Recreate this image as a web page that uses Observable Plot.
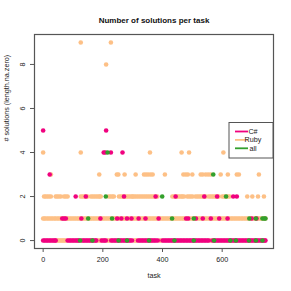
<!DOCTYPE html>
<html><head><meta charset="utf-8">
<script src="https://cdn.jsdelivr.net/npm/d3@7"></script>
<script src="https://cdn.jsdelivr.net/npm/@observablehq/plot@0.6"></script>
<style>body{margin:0;background:#fff}</style>
</head><body><div id="chart"></div>
<script>
const series = ["C#", "Ruby", "all"];
const colors = ["#F0027F", "#FDC086", "#33A02C"];
const xTicks = [0, 200, 400, 600];
const yTicks = [0, 2, 4, 6, 8];

// Ruby: task ids per number of solutions
const ruby0 = [48,52,56,60,64,68,72,76,184,188,192,216,220,224,306,309,312,391,394,560,563];
const ruby1 = [0,4,9,15,20,26,31,37,42,48,53,59,64,70,75,81,86,92,97,103,108,114,119,125,130,136,141,147,152,158,163,169,174,180,185,191,196,202,207,213,218,224,229,235,240,246,251,257,262,268,273,279,284,290,295,301,306,312,317,323,328,334,339,345,350,356,361,367,372,378,383,389,394,400,405,411,416,422,427,433,438,444,449,455,460,466,471,477,482,488,493,499,504,510,515,521,526,532,537,543,548,554,559,565,570,576,581,587,592,598,603,609,614,620,625,631,636,642,647,653,658,664,669,675,680,686,691,697,702,708,713,719,724,730,735,741,745];
const ruby2 = [3,8,14,20,26,42,47,53,59,70,76,82,126,132,138,144,149,160,166,172,178,184,189,193,220,226,232,237,254,260,266,272,278,284,290,296,300,304,310,316,322,328,334,340,346,352,358,364,370,376,383,433,439,445,451,457,463,467,472,483,489,495,501,511,517,523,529,535,541,545,555,561,567,573,579,585,588,600,606,612,619,625,684,701,720,740];
const ruby3 = [26,188,247,252,273,310,338,345,352,360,367,408,470,478,485,500,528,535,545,553,561,595,619,649,656,723];
const ruby4 = [0,126,358,464,489,604];
const ruby8 = [211];
const ruby9 = [126,227];

// C#: task ids per number of solutions
const csharp0 = [0,5,10,15,20,25,30,35,40,42,82,87,92,97,102,107,112,117,120,130,135,140,145,150,155,160,165,170,175,178,196,201,206,210,228,233,238,243,248,253,258,263,268,273,278,283,288,293,298,318,323,328,333,338,343,348,353,358,363,368,373,378,384,400,405,410,415,420,425,430,435,440,445,450,455,460,465,470,475,480,485,490,495,500,505,510,515,520,525,530,535,540,545,550,555,568,573,578,583,588,593,598,603,608,613,618,623,628,633,638,643,648,653,658,663,668,673,678,683,688,693,698,703,708,713,718,723,728,733,738,743,745];
const csharp1 = [64,70,76,128,192,248,262,281,296,320,343,387,479,486,512,535,562,590,618,699,715];
const csharp2 = [109,143,271,377,444,540,583,637,649];
const csharp3 = [22];
const csharp4 = [203,208,227,266];
const csharp5 = [0,211];

// all: task ids per number of solutions
const all0 = [124,165,253,281,355,440,505,573,627,646,690,713,735];
const all1 = [151,231,432,505,691,713,735,741,745];
const all2 = [210,399,613];
const all3 = [570];
const all4 = [216];

const pts = (lang, n, tasks) => tasks.map(task => ({task, n, lang}));
const data = [
  ...pts("Ruby",0,ruby0), ...pts("Ruby",1,ruby1), ...pts("Ruby",2,ruby2), ...pts("Ruby",3,ruby3),
  ...pts("Ruby",4,ruby4), ...pts("Ruby",8,ruby8), ...pts("Ruby",9,ruby9),
  ...pts("C#",0,csharp0), ...pts("C#",1,csharp1), ...pts("C#",2,csharp2), ...pts("C#",3,csharp3),
  ...pts("C#",4,csharp4), ...pts("C#",5,csharp5),
  ...pts("all",0,all0), ...pts("all",1,all1), ...pts("all",2,all2), ...pts("all",3,all3), ...pts("all",4,all4)
];

const font = "'Liberation Sans', Arial, Helvetica, sans-serif";
const chart = Plot.plot({
  width: 291, height: 291,
  marginLeft: 34, marginRight: 18, marginTop: 34, marginBottom: 43,
  style: {fontFamily: font, fontSize: "7.2px", background: "#fff", color: "#222"},
  x: {domain: [-29, 772], axis: null},
  y: {domain: [-0.36, 9.36], axis: null},
  color: {domain: series, range: colors},
  marks: [
    Plot.dot(data, {x: "task", y: "n", fill: "lang", r: 2.3}),
    Plot.frame({stroke: "#555", strokeWidth: 1.2}),
    Plot.axisX({ticks: xTicks, tickSize: 4, tickPadding: 4, label: null, stroke: "#555"}),
    Plot.axisY({ticks: yTicks, tickSize: 4, tickFormat: () => "", label: null, stroke: "#555"}),
    Plot.text(yTicks, {y: d => d, text: d => String(d), frameAnchor: "left", dx: -12, rotate: -90, textAnchor: "middle", fill: "#222"}),
    Plot.text(["Number of solutions per task"], {frameAnchor: "top", dy: -17, fontWeight: "bold", fontSize: 8, fill: "#111"}),
    Plot.text(["task"], {frameAnchor: "bottom", dy: 29, fill: "#222"}),
    Plot.text(["# solutions (length.na.zero)"], {frameAnchor: "left", dx: -28, rotate: -90, fill: "#222"})
  ]
});
document.getElementById("chart").appendChild(chart);

// legend (R-style box in upper right)
const svg = d3.select(chart);
const lg = svg.append("g").attr("font-family", font).attr("font-size", "7.2px");
lg.append("rect").attr("x", 229).attr("y", 122.5).attr("width", 44).attr("height", 35.5)
  .attr("fill", "#fff").attr("stroke", "#555").attr("stroke-width", 1);
series.forEach((s, i) => {
  const y = 131.5 + i * 8.4;
  lg.append("line").attr("x1", 235).attr("x2", 248).attr("y1", y).attr("y2", y)
    .attr("stroke", colors[i]).attr("stroke-width", 1.8);
  lg.append("text").attr("x", 253).attr("y", y).attr("dy", "0.35em").attr("fill", "#222").text(s);
});
</script>
</body></html>
